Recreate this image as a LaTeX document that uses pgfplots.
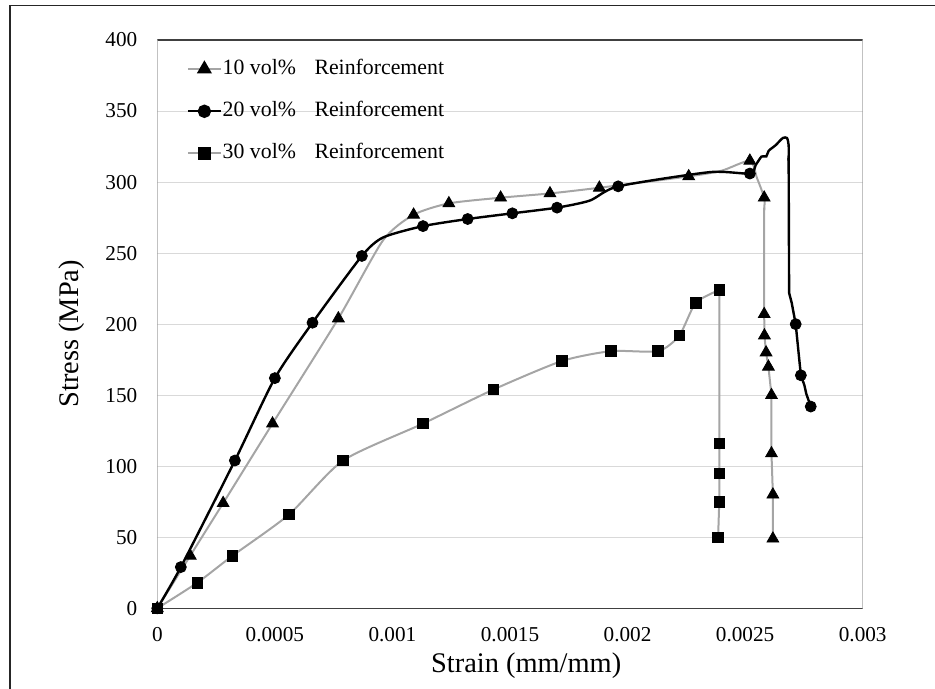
\documentclass[border=0pt]{standalone}
\usepackage{fontspec}
\setmainfont{Liberation Serif}
\usepackage{pgfplots}
\pgfplotsset{compat=1.18}
\definecolor{lgrey}{RGB}{165,165,165}
\definecolor{gridc}{RGB}{217,217,217}
\definecolor{axdark}{RGB}{64,64,64}
\begin{document}
\begin{tikzpicture}[x=1pt,y=1pt]
\path[use as bounding box] (0,0) rectangle (467.5,344.5);
\draw[line width=0.75pt, black!85] (5,0) -- (5,341.85) -- (467.5,341.85);
\begin{axis}[
  at={(78.65pt,40.35pt)}, anchor=south west,
  scale only axis, width=352.7pt, height=284.15pt,
  xmin=0, xmax=0.003, ymin=0, ymax=400,
  xtick={0,0.0005,0.001,0.0015,0.002,0.0025,0.003},
  xticklabels={0,0.0005,0.001,0.0015,0.002,0.0025,0.003},
  scaled x ticks=false,
  ytick={0,50,...,400},
  major tick length=0pt,
  ymajorgrids, grid style={draw=gridc, line width=0.5pt},
  axis line style={draw=none},
  /pgf/number format/assume math mode=true,
  tick label style={font=\fontsize{10.6}{12}\selectfont},
  yticklabel shift=6.5pt,
  xticklabel shift=5.8pt,
  xlabel={Strain (mm/mm)},
  ylabel={Stress (MPa)},
  label style={font=\fontsize{14.2}{16}\selectfont},
  xlabel style={at={(axis description cs:0.523,0)}, anchor=center, yshift=-28.6pt},
  ylabel style={at={(axis description cs:-0.1209,0.483)}, anchor=center, rotate=0},
  legend style={at={(0,1)}, anchor=north west, draw=none, fill=none,
    xshift=14.7pt, yshift=-9.3pt, inner sep=0pt, outer sep=0pt,
    font=\fontsize{10.9}{12}\selectfont,
    nodes={inner sep=0pt, text height=8pt, text depth=2.5pt},
    row sep=10.6pt, column sep=0.3pt},
  legend cell align=left,
  legend image code/.code={\draw[mark repeat=2,mark phase=2,#1] plot coordinates {(0pt,0pt) (8.25pt,0pt) (16.5pt,0pt)};},
]
% box
\draw[axdark, line width=0.6pt] (rel axis cs:1,1) -- (rel axis cs:0,1);
\draw[axdark, line width=0.6pt] (rel axis cs:0,0) -- (rel axis cs:1,0);
\draw[gray!75, line width=0.6pt] (rel axis cs:0,0) -- (rel axis cs:0,1);
\draw[gray!75, line width=1pt] (rel axis cs:1,0) -- (rel axis cs:1,1);

\addlegendimage{lgrey, line width=1pt, mark=triangle*, mark size=3.4pt, mark options={black, fill=black, solid}}
\addlegendentry{10 vol\%\hspace{0.85em}Reinforcement}
\addlegendimage{black, line width=1.2pt, mark=*, mark size=2.75pt, mark options={black, fill=black, solid}}
\addlegendentry{20 vol\%\hspace{0.85em}Reinforcement}
\addlegendimage{lgrey, line width=1pt, mark=square*, mark size=2.65pt, mark options={black, fill=black, solid}}
\addlegendentry{30 vol\%\hspace{0.85em}Reinforcement}

% 10 vol% line
\addplot[lgrey, line width=1pt, smooth, tension=0.4, forget plot] coordinates {
(0,0) (0.00014,37) (0.00028,74) (0.00049,130) (0.00077,204) (0.00096,259) (0.00109,277)
(0.00124,285) (0.00146,289) (0.00167,292) (0.00188,296) (0.00226,304) (0.0024,308) (0.00252,315)
(0.00255,303) (0.002581,289) (0.002581,280)};
\addplot[lgrey, line width=1pt, forget plot] coordinates {
(0.002581,282) (0.002581,207) (0.002582,192) (0.002589,180) (0.002599,170)
(0.002612,150) (0.002612,109) (0.002618,80) (0.002618,49)};
\addplot[only marks, mark=triangle*, mark size=3.4pt, black, forget plot] coordinates {
(0,0) (0.00014,37) (0.00028,74) (0.00049,130) (0.00077,204) (0.00109,277)
(0.00124,285) (0.00146,289) (0.00167,292) (0.00188,296) (0.00226,304) (0.00252,315)
(0.002581,289) (0.002581,207) (0.002582,192) (0.002589,180) (0.002599,170)
(0.002612,150) (0.002612,109) (0.002618,80) (0.002618,49)};

% 20 vol% line
\addplot[black, line width=1.2pt, smooth, tension=0.4, forget plot] coordinates {
(0,0) (0.0001,29) (0.00033,104) (0.0005,162) (0.00066,201) (0.00087,248) (0.00096,261)
(0.00113,269) (0.00132,274) (0.00151,278) (0.0017,282) (0.00184,287) (0.00196,297)
(0.00235,307) (0.00252,306) (0.002545,312) (0.00257,318) (0.00259,318) (0.0026,322)
(0.00263,326) (0.00266,331) (0.002678,331) (0.002685,326) (0.002685,315)};
\addplot[black, line width=1.2pt, forget plot] coordinates {
(0.002685,317) (0.002687,222) (0.002698,215)
(0.002715,200) (0.002737,164) (0.002752,157) (0.00276,151) (0.002779,142)};
\addplot[only marks, mark=*, mark size=2.75pt, black, forget plot] coordinates {
(0,0) (0.0001,29) (0.00033,104) (0.0005,162) (0.00066,201) (0.00087,248)
(0.00113,269) (0.00132,274) (0.00151,278) (0.0017,282) (0.00196,297)
(0.00252,306) (0.002715,200) (0.002737,164) (0.002779,142)};

% 30 vol% line
\addplot[lgrey, line width=1pt, smooth, tension=0.4, forget plot] coordinates {
(0,0) (0.00017,18) (0.00032,37) (0.00056,66) (0.00079,104) (0.00113,130) (0.00143,154)
(0.00172,174) (0.00193,181) (0.00213,181) (0.00222,192) (0.00229,215) (0.00239,224)};
\addplot[lgrey, line width=1pt, forget plot] coordinates {
(0.00239,224) (0.00239,116) (0.00239,95) (0.00239,75) (0.002385,50)};
\addplot[only marks, mark=square*, mark size=2.65pt, black, forget plot] coordinates {
(0,0) (0.00017,18) (0.00032,37) (0.00056,66) (0.00079,104) (0.00113,130) (0.00143,154)
(0.00172,174) (0.00193,181) (0.00213,181) (0.00222,192) (0.00229,215) (0.00239,224)
(0.00239,116) (0.00239,95) (0.00239,75) (0.002385,50)};
\end{axis}
\end{tikzpicture}
\end{document}
